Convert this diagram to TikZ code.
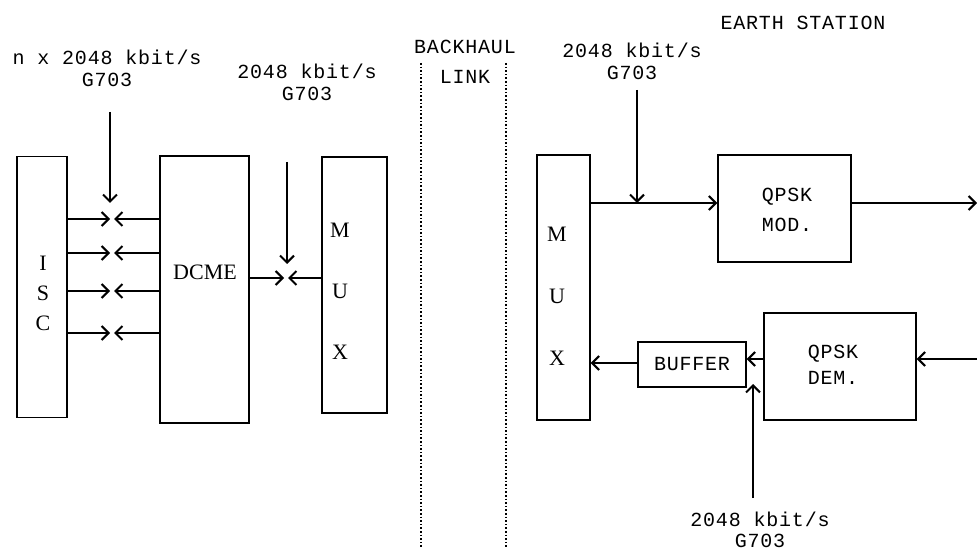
\documentclass[tikz,border=0pt]{standalone}
\usepackage{fontspec}
\setmainfont{Liberation Serif}
\setmonofont[LetterSpace=4]{Liberation Mono}
\usetikzlibrary{arrows.meta}

\newcommand{\lblfont}{\ttfamily\fontsize{20}{22}\selectfont}
\newcommand{\boxfont}{\rmfamily\fontsize{22}{30}\selectfont}

\tikzset{
  blk/.style={draw, line width=1.4pt, rectangle, inner sep=0pt},
  lbl/.style={font=\lblfont, align=center, inner sep=1pt},
  letters/.style={font=\boxfont, align=center, inner sep=0pt},
  conn/.style={line width=1.5pt, -{Straight Barb[length=7pt,width=14pt,line width=2pt]}},
  thin/.style={line width=1.1pt, -{Straight Barb[length=7pt,width=14pt,line width=2pt]}},
  link/.style={line width=1.6pt, dotted}
}

\begin{document}
\begin{tikzpicture}[x=1pt, y=-1pt]
\useasboundingbox (0,0) rectangle (977,553);

% blocks
\node[blk, minimum width=50, minimum height=261] (isc) at (42,287) {};
\node[blk, minimum width=89, minimum height=267] (dcme) at (204.5,289.5) {};
\node[blk, minimum width=65, minimum height=256] (muxl) at (354.5,285) {};
\node[blk, minimum width=53, minimum height=265] (muxr) at (563.5,287.5) {};
\node[blk, minimum width=133, minimum height=107] (mod) at (784.5,208.5) {};
\node[blk, minimum width=152, minimum height=107] (dem) at (840,366.5) {};
\node[blk, minimum width=108, minimum height=45, font=\lblfont] (buf) at (692,364.5) {BUFFER};

% block texts
\node[letters] (isctext) at (43,293) {I\\S\\C};
\node[letters] (dcmetext) at (205,272) {DCME};
\node[letters, font=\rmfamily\fontsize{22}{61}\selectfont] (muxltext) at (340,291) {M\\U\\X};
\node[letters, font=\rmfamily\fontsize{22}{62}\selectfont] (muxrtext) at (557,296) {M\\U\\X};
\node[lbl, font=\ttfamily\fontsize{20}{30}\selectfont] (modtext) at (787,210) {QPSK\\MOD.};
\node[lbl, font=\ttfamily\fontsize{20}{26}\selectfont] (demtext) at (833,365) {QPSK\\DEM.};

% labels
\node[lbl] (nxlab) at (107,68) {n x 2048 kbit/s\\G703};
\node[lbl] (inlab1) at (307,82) {2048 kbit/s\\G703};
\node[lbl, font=\ttfamily\fontsize{20}{30}\selectfont] (backhaul) at (465,62) {BACKHAUL\\LINK};
\node[lbl] (inlab2) at (632,61) {2048 kbit/s\\G703};
\node[lbl] (earth) at (803,23) {EARTH STATION};
\node[lbl, font=\ttfamily\fontsize{20}{21}\selectfont] (inlab3) at (760,530) {2048 kbit/s\\G703};

% backhaul link
\coordinate (bh1top) at (421,63);
\coordinate (bh1bot) at (421,548);
\coordinate (bh2top) at (506,63);
\coordinate (bh2bot) at (506,548);
\draw[link] (bh1top) -- (bh1bot);
\draw[link] (bh2top) -- (bh2bot);

% ISC <-> DCME
\foreach \y [count=\i] in {219,253,291,333} {
  \coordinate (j\i) at (112,\y);
  \draw[conn] (isc.east |- j\i) -- ([xshift=-2]j\i);
  \draw[conn] (dcme.west |- j\i) -- ([xshift=2]j\i);
}
\coordinate (in1top) at (110,112);
\coordinate (in1bot) at (110,203);
\draw[conn] (in1top) -- (in1bot);

% DCME <-> MUX
\coordinate (j5) at (286,278);
\draw[conn] (dcme.east |- j5) -- ([xshift=-2]j5);
\draw[conn] (muxl.west |- j5) -- ([xshift=2]j5);
\coordinate (in2top) at (287,162);
\coordinate (in2bot) at (287,264);
\draw[conn] (in2top) -- (in2bot);

% earth station, transmit side
\coordinate (tx) at (590,203);
\draw[thin] (muxr.east |- tx) -- (mod.west |- tx);
\coordinate (in3top) at (637,90);
\coordinate (in3bot) at (637,203);
\draw[thin] (in3top) -- (in3bot);
\coordinate (modout) at (977,203);
\draw[thin] (mod.east |- modout) -- (modout);

% earth station, receive side
\coordinate (demin) at (977,359);
\draw[conn] (demin) -- (dem.east |- demin);
\draw[conn] (dem.west |- demin) -- (buf.east |- demin);
\coordinate (rx) at (638,363);
\draw[conn] (buf.west |- rx) -- (muxr.east |- rx);
\coordinate (in4bot) at (753,498);
\coordinate (in4top) at (753,384);
\draw[conn] (in4bot) -- (in4top);
\end{tikzpicture}
\end{document}
